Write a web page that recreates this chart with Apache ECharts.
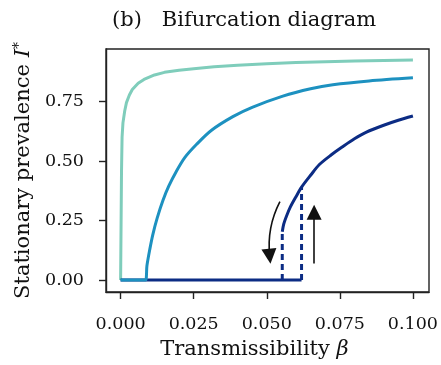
<!DOCTYPE html>
<html>
<head>
<meta charset="utf-8">
<script src="https://cdn.jsdelivr.net/npm/echarts@6/dist/echarts.min.js"></script>
<style>
  html, body { margin: 0; padding: 0; background: #fff; }
  #chart { width: 441px; height: 365px; }
</style>
</head>
<body>
<div id="chart"></div>
<script>
// tick labels
const xTicks = [0, 0.025, 0.05, 0.075, 0.1];
const yTicks = [0, 0.25, 0.5, 0.75];

// light curve (lowest threshold)
const betaA = [0, 0.0002, 0.0003, 0.0005, 0.0008, 0.0014, 0.002, 0.003, 0.004, 0.006, 0.008, 0.0116, 0.015, 0.02, 0.025, 0.032, 0.04, 0.05, 0.06, 0.07, 0.08, 0.09, 0.1];
const prevA = [0, 0, 0.45, 0.6, 0.66, 0.71, 0.745, 0.777, 0.8, 0.826, 0.842, 0.861, 0.872, 0.881, 0.887, 0.895, 0.902, 0.908, 0.913, 0.917, 0.92, 0.922, 0.924];

// middle curve
const betaB = [0, 0.0085, 0.009, 0.01, 0.011, 0.0125, 0.0145, 0.0165, 0.019, 0.022, 0.026, 0.031, 0.0384, 0.045, 0.0555, 0.065, 0.0726, 0.085, 0.1];
const prevB = [0, 0, 0.06, 0.13, 0.19, 0.26, 0.335, 0.395, 0.455, 0.515, 0.57, 0.628, 0.686, 0.725, 0.772, 0.803, 0.82, 0.836, 0.849];

// dark curve: lower branch, upper branch, jumps
const betaLow = [0, 0.0619];
const prevLow = [0, 0];
const betaUp = [0.0553, 0.0558, 0.0568, 0.058, 0.06, 0.0619, 0.065, 0.068, 0.072, 0.076, 0.08, 0.0841, 0.09, 0.095, 0.1];
const prevUp = [0.203, 0.235, 0.27, 0.305, 0.35, 0.39, 0.44, 0.485, 0.525, 0.56, 0.593, 0.621, 0.65, 0.671, 0.689];
const jumpDown = [[0.0553, 0], [0.0553, 0.203]];
const jumpUp = [[0.0619, 0], [0.0619, 0.39]];

// hysteresis arrows [start, end]
const arrowDown = [[0.0545, 0.329], [0.051, 0.1]];
const arrowUp = [[0.0662, 0.07], [0.0662, 0.285]];

const zip = (xs, ys) => xs.map((x, i) => [x, ys[i]]);

const font = "DejaVu Serif";
const ink = "#111";
const axisStyle = { color: "#222", width: 1.4 };
const chart = echarts.init(document.getElementById("chart"));
chart.setOption({
  animation: false,
  title: {
    text: "(b)   Bifurcation diagram",
    left: 107,
    top: 5,
    textStyle: { fontFamily: font, fontSize: 21, fontWeight: "normal", color: ink },
  },
  grid: {
    left: 106, right: 12, top: 49, bottom: 73,
    show: true, borderColor: "#222", borderWidth: 1.4,
  },
  xAxis: {
    type: "value",
    min: -0.005,
    max: 0.1055,
    splitLine: { show: false },
    axisLine: { onZero: false, lineStyle: axisStyle },
    axisTick: { customValues: xTicks, length: 7, lineStyle: axisStyle },
    axisLabel: {
      customValues: xTicks, margin: 23,
      formatter: (v) => v.toFixed(3),
      fontFamily: font, fontSize: 17.5, color: ink,
    },
    name: "Transmissibility {b|β}",
    nameLocation: "middle",
    nameGap: 47,
    nameTextStyle: {
      fontFamily: font, fontSize: 21, color: ink, padding: [0, 26, 0, 0],
      rich: { b: { fontFamily: font, fontSize: 21, fontStyle: "italic", color: ink } },
    },
  },
  yAxis: {
    type: "value",
    min: -0.05,
    max: 0.97,
    splitLine: { show: false },
    axisLine: { onZero: false, lineStyle: axisStyle },
    axisTick: { customValues: yTicks, length: 7, lineStyle: axisStyle },
    axisLabel: {
      customValues: yTicks, margin: 22,
      formatter: (v) => v.toFixed(2),
      fontFamily: font, fontSize: 17.5, color: ink,
    },
    name: "Stationary prevalence {i|I}{s|*}",
    nameLocation: "middle",
    nameGap: 64,
    nameTextStyle: {
      fontFamily: font, fontSize: 21, color: ink,
      rich: {
        i: { fontFamily: font, fontSize: 21, fontStyle: "italic", color: ink },
        s: { fontFamily: font, fontSize: 14, color: ink, verticalAlign: "top", padding: [0, 0, 9, 0] },
      },
    },
  },
  series: [
    {
      type: "line", data: zip(betaA, prevA), showSymbol: false, z: 2,
      lineStyle: { color: "#7fcdbb", width: 3 },
    },
    {
      type: "line", data: zip(betaLow, prevLow), showSymbol: false, z: 3,
      lineStyle: { color: "#0c2c84", width: 3 },
    },
    {
      type: "line", data: zip(betaUp, prevUp), showSymbol: false, z: 3, smooth: 0.3,
      lineStyle: { color: "#0c2c84", width: 3 },
    },
    {
      type: "line", data: jumpDown, showSymbol: false, z: 3,
      lineStyle: { color: "#0c2c84", width: 3, type: [6, 4] },
    },
    {
      type: "line", data: jumpUp, showSymbol: false, z: 3,
      lineStyle: { color: "#0c2c84", width: 3, type: [6, 4] },
    },
    {
      type: "line", data: zip(betaB, prevB), showSymbol: false, z: 4, smooth: 0.3,
      lineStyle: { color: "#1d91c0", width: 3 },
    },
    {
      type: "lines",
      coordinateSystem: "cartesian2d",
      z: 5,
      symbol: ["none", "triangle"],
      symbolSize: [8, 15],
      lineStyle: { color: ink, width: 1.6, opacity: 1 },
      data: [
        { coords: arrowDown, lineStyle: { curveness: -0.15 } },
        { coords: arrowUp, lineStyle: { curveness: 0 } },
      ],
    },
  ],
});
</script>
</body>
</html>
